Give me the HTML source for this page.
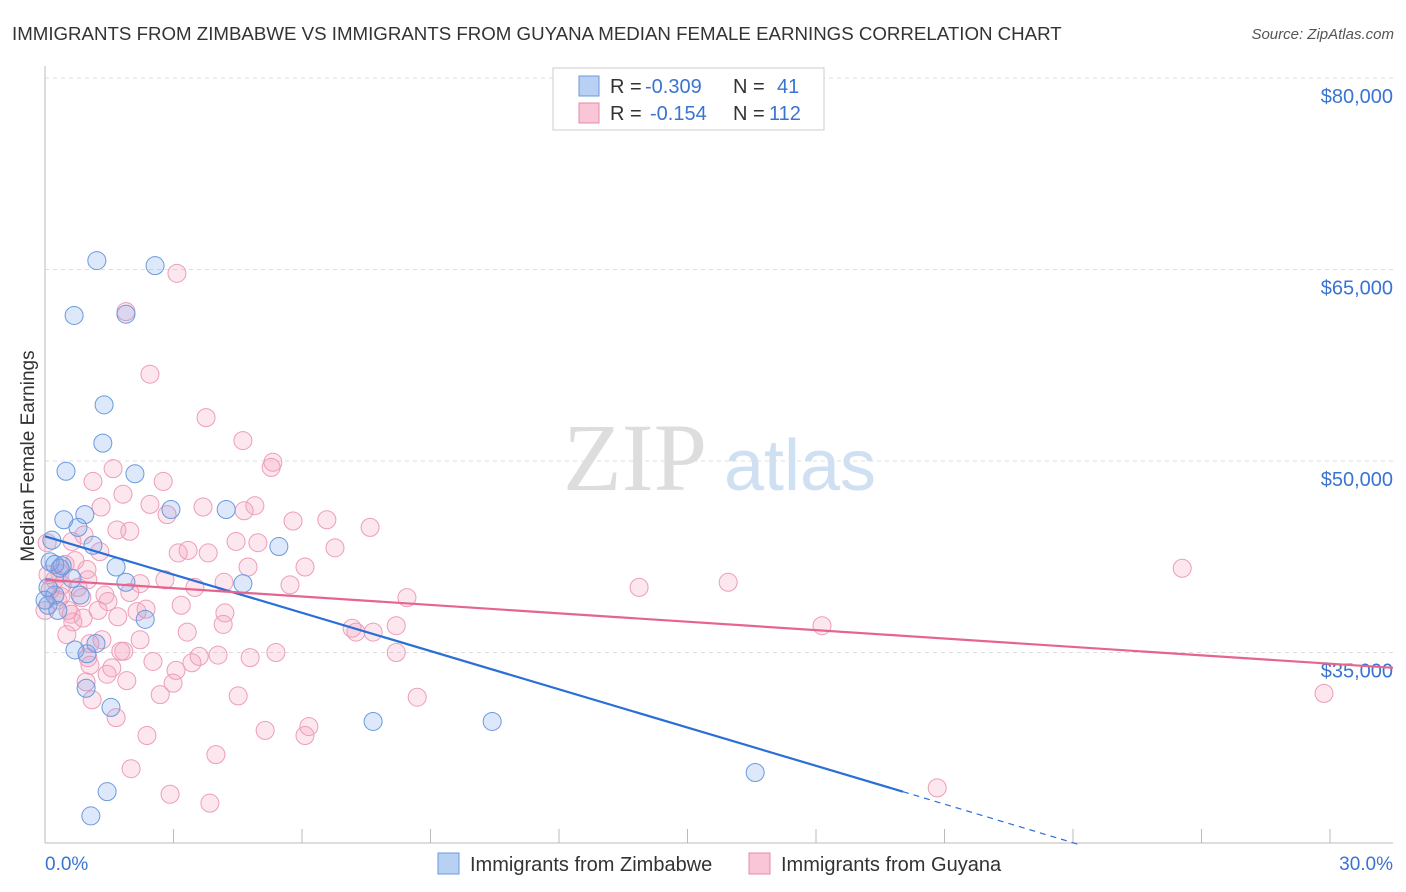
<!DOCTYPE html>
<html><head><meta charset="utf-8"><style>
body{margin:0;background:#fff;font-family:"Liberation Sans",sans-serif;}
#c{position:relative;width:1406px;height:892px;overflow:hidden}
</style></head><body>
<div id="c">
<svg id="s" width="1406" height="892" xmlns="http://www.w3.org/2000/svg">
<text x="12" y="40" font-size="18.7" fill="#333">IMMIGRANTS FROM ZIMBABWE VS IMMIGRANTS FROM GUYANA MEDIAN FEMALE EARNINGS CORRELATION CHART</text>
<text x="1394" y="39" font-size="15" fill="#555" font-style="italic" text-anchor="end">Source: ZipAtlas.com</text>
<text x="34" y="456" font-size="19" fill="#333" text-anchor="middle" transform="rotate(-90 34 456)">Median Female Earnings</text>
<g>
<text x="635" y="490" font-size="96" fill="#ddd" font-family="Liberation Serif,serif" text-anchor="middle">ZIP</text>
<text x="800" y="490" font-size="72" fill="#cfe0f3" text-anchor="middle">atlas</text>
</g>
<g id="grid"></g>
<g id="axes"></g>
<g id="pts"></g>
<g id="lines"></g>
<g>
<rect x="553" y="68" width="271" height="62" fill="#fff" stroke="#ccc"/>
<rect x="579" y="76" width="20" height="20" fill="#b8d0f2" stroke="#6b9ae0"/>
<rect x="579" y="103" width="20" height="20" fill="#f8c6d6" stroke="#e88aa8"/>
<text x="610" y="93" font-size="20" fill="#333">R =</text>
<text x="645" y="93" font-size="20" fill="#3a74d0">-0.309</text>
<text x="733" y="93" font-size="20" fill="#333">N =</text>
<text x="777" y="93" font-size="20" fill="#3a74d0">41</text>
<text x="610" y="120" font-size="20" fill="#333">R =</text>
<text x="650" y="120" font-size="20" fill="#3a74d0">-0.154</text>
<text x="733" y="120" font-size="20" fill="#333">N =</text>
<text x="769" y="120" font-size="20" fill="#3a74d0">112</text>
</g>
<g>
<rect x="438" y="853" width="21" height="21" fill="#b8d0f2" stroke="#6b9ae0"/>
<text x="470" y="871" font-size="20" fill="#333">Immigrants from Zimbabwe</text>
<rect x="749" y="853" width="21" height="21" fill="#f8c6d6" stroke="#e88aa8"/>
<text x="781" y="871" font-size="20" fill="#333">Immigrants from Guyana</text>
</g>
</svg>
</div>
<script>
const yTicks=[80000,65000,50000,35000];
const yTickLabels=["$80,000","$65,000","$50,000","$35,000"];
const xTickLabels=["0.0%","30.0%"];
const zimX=[1.21,2.57,0.68,1.89,1.38,1.35,0.49,2.10,2.94,4.23,0.93,0.44,0.77,0.16,1.12,5.46,0.12,0.35,1.66,0.63,1.89,4.62,0.23,0.82,0.07,0.30,2.34,1.19,0.70,0.98,0.96,1.54,7.66,10.44,16.58,1.45,1.07,0.07,0.40,0.23,0.0];
const zimY=[65.7,65.3,61.4,61.5,54.4,51.4,49.2,49.0,46.2,46.2,45.8,45.4,44.8,43.8,43.4,43.3,42.1,41.6,41.7,40.8,40.5,40.4,39.5,39.5,38.7,38.3,37.6,35.7,35.2,34.9,32.2,30.7,29.6,29.6,25.6,24.1,22.2,40.1,41.8,41.9,39.1];
const guyX=[3.08,1.89,2.45,3.76,4.62,5.32,5.28,1.59,1.12,1.82,2.76,2.45,3.69,4.90,4.65,1.31,2.85,5.79,6.58,7.59,1.98,1.68,0.91,0.63,0.05,3.11,3.34,3.81,4.46,4.97,6.77,4.74,6.07,0.98,0.35,1.00,4.18,2.22,3.50,1.40,1.47,1.98,0.37,8.45,3.18,2.36,1.24,0.61,0.65,0.89,2.15,4.20,4.16,3.32,7.17,7.26,7.66,8.20,0.51,1.05,1.33,1.77,1.84,3.60,4.04,5.39,8.20,1.00,2.52,3.06,1.05,1.45,0.96,1.91,2.99,2.69,4.51,8.69,1.66,5.14,6.16,6.07,2.38,3.99,2.01,2.92,3.85,13.87,15.95,18.14,26.55,29.86,20.83,0,0.12,0.23,0.07,0.47,0.70,0.30,0.54,1.56,1.10,0.86,0.40,0.77,1.28,1.70,2.22,3.43,4.79,5.72,2.80];
const guyY=[64.7,61.7,56.8,53.4,51.6,49.9,49.5,49.4,48.4,47.4,48.4,46.6,46.4,46.5,46.1,46.4,45.8,45.3,45.4,44.8,44.5,44.6,44.2,43.7,43.6,42.8,43.0,42.8,43.7,43.6,43.2,41.7,41.7,41.5,41.2,40.7,40.5,40.4,40.1,39.5,39.0,39.7,39.4,39.3,38.7,38.4,38.3,38.0,37.4,37.7,38.2,38.1,37.2,36.6,36.9,36.6,36.6,37.1,36.4,35.7,36.0,35.1,35.1,34.7,34.8,35.0,35.0,34.6,34.3,33.6,34.0,33.3,32.7,32.8,32.6,31.7,31.6,31.5,29.9,28.9,29.2,28.5,28.5,27.0,25.9,23.9,23.2,40.1,40.5,37.1,41.6,31.8,24.4,38.3,39.9,40.7,41.1,41.9,42.2,39.1,38.3,33.8,31.3,39.3,40.3,40.1,42.9,37.8,36.0,34.2,34.6,40.3,40.7];
const zimTrendX=[0,20.03,24.1];
const zimTrendY=[44.1,24.1,20.0];
const guyTrendX=[0,30];
const guyTrendY=[40.7,33.8];
const X0=45,X1=1330,YT=78,PX=12.767;
function sx(v){return X0+v/30*(X1-X0);}
function sy(k){return YT+(80-k)*PX;}
const NS="http://www.w3.org/2000/svg";
function mk(p,tag,a){const e=document.createElementNS(NS,tag);for(const k in a)e.setAttribute(k,a[k]);p.appendChild(e);return e;}
const grid=document.getElementById('grid'),axes=document.getElementById('axes'),pts=document.getElementById('pts'),lines=document.getElementById('lines');
yTicks.forEach((t,i)=>{const y=sy(t/1000);
const l=mk(grid,'line',{x1:X0,x2:1393,y1:y,y2:y,stroke:'#ddd','stroke-dasharray':'4,4'});


const tx=mk(axes,'text',{x:1393,y:y+25,'font-size':20,fill:'#3a74d0','text-anchor':'end'});tx.textContent=yTickLabels[i];

});
const ya=mk(axes,'line',{x1:X0,x2:X0,y1:66,y2:843,stroke:'#bbb'});


const xa=mk(axes,'line',{x1:X0,x2:1393,y1:843,y2:843,stroke:'#bbb'});


for(let i=1;i<=10;i++){const x=sx(i*3);const t=mk(axes,'line',{x1:x,x2:x,y1:829,y2:843,stroke:'#bbb'});

}
[[0,'start',45],[30,'end',1393]].forEach((d,i)=>{const t=mk(axes,'text',{x:d[2],y:870,'font-size':19,fill:'#3a74d0','text-anchor':d[1]});t.textContent=xTickLabels[i];

});
guyX.forEach((v,i)=>{const c=mk(pts,'circle',{cx:sx(v),cy:sy(guyY[i]),r:9,fill:'rgba(244,160,188,0.25)',stroke:'#ee9db7','stroke-width':1});

});
zimX.forEach((v,i)=>{const c=mk(pts,'circle',{cx:sx(v),cy:sy(zimY[i]),r:9,fill:'rgba(120,165,235,0.25)',stroke:'#6a9ade','stroke-width':1});

});
const b1=mk(lines,'line',{x1:sx(zimTrendX[0]),y1:sy(zimTrendY[0]),x2:sx(zimTrendX[1]),y2:sy(zimTrendY[1]),stroke:'#2a6fd6','stroke-width':2.2});


const b2=mk(lines,'line',{x1:sx(zimTrendX[1]),y1:sy(zimTrendY[1]),x2:sx(zimTrendX[2]),y2:sy(zimTrendY[2]),stroke:'#2a6fd6','stroke-width':1.2,'stroke-dasharray':'6,5'});


const p1=mk(lines,'line',{x1:sx(guyTrendX[0]),y1:sy(guyTrendY[0]),x2:sx(guyTrendX[1])+63,y2:sy(guyTrendY[1]),stroke:'#e5658f','stroke-width':2.2});


</script>
</body></html>
